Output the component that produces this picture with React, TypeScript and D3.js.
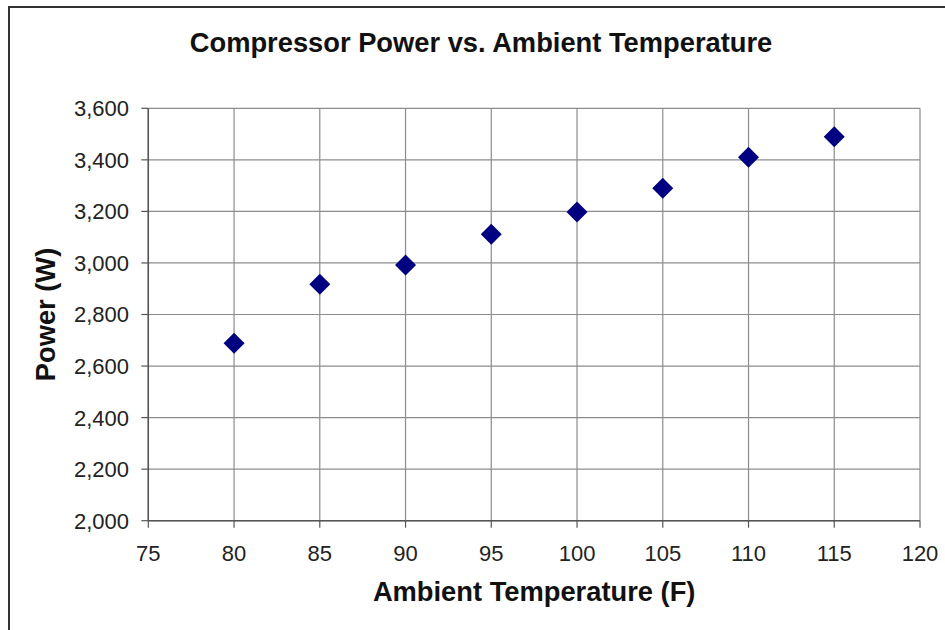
import React from "react";
import * as d3 from "d3";

const temperatures = [80, 85, 90, 95, 100, 105, 110, 115];
const powers = [2688, 2917, 2992, 3111, 3198, 3290, 3410, 3490];
const xTicks = [75, 80, 85, 90, 95, 100, 105, 110, 115, 120];
const yTicks = [2000, 2200, 2400, 2600, 2800, 3000, 3200, 3400, 3600];

const W = 945;
const H = 630;
const plot = { left: 148.3, right: 920, top: 108.3, bottom: 520.7 };
const FONT = "Arial, 'Liberation Sans', Helvetica, sans-serif";

export default function App() {
  const x = d3.scaleLinear().domain([75, 120]).range([plot.left, plot.right]);
  const y = d3.scaleLinear().domain([2000, 3600]).range([plot.bottom, plot.top]);
  const fmt = d3.format(",");
  const r = 10.5;

  return (
    <svg
      width={W}
      height={H}
      style={{ position: "absolute", left: 0, top: 0, background: "#fff" }}
      fontFamily={FONT}
    >
      <rect x={0} y={0} width={W} height={H} fill="#fff" />
      {/* outer frame */}
      <rect x={9} y={7} width={W + 20} height={H + 20} fill="none" stroke="#333" strokeWidth={2} />

      {/* grid lines */}
      {yTicks.map((t) => (
        <line key={"gy" + t} x1={plot.left} x2={plot.right} y1={y(t)} y2={y(t)} stroke="#8c8c8c" strokeWidth={1.2} />
      ))}
      {xTicks.map((t) => (
        <line key={"gx" + t} x1={x(t)} x2={x(t)} y1={plot.top} y2={plot.bottom} stroke="#8c8c8c" strokeWidth={1.2} />
      ))}

      {/* axes */}
      <line x1={plot.left} x2={plot.left} y1={plot.top} y2={plot.bottom} stroke="#555" strokeWidth={1.5} />
      <line x1={plot.left} x2={plot.right} y1={plot.bottom} y2={plot.bottom} stroke="#555" strokeWidth={1.5} />

      {/* y ticks */}
      {yTicks.map((t) => (
        <g key={"ty" + t}>
          <line x1={plot.left - 7} x2={plot.left} y1={y(t)} y2={y(t)} stroke="#555" strokeWidth={1.2} />
          <text x={129} y={y(t)} dy="0.36em" textAnchor="end" fontSize={22} fill="#222">
            {fmt(t)}
          </text>
        </g>
      ))}

      {/* x ticks */}
      {xTicks.map((t) => (
        <g key={"tx" + t}>
          <line x1={x(t)} x2={x(t)} y1={plot.bottom} y2={plot.bottom + 7} stroke="#555" strokeWidth={1.2} />
          <text x={x(t)} y={561} textAnchor="middle" fontSize={22} fill="#222">
            {t}
          </text>
        </g>
      ))}

      {/* points */}
      {temperatures.map((t, i) => {
        const cx = x(t);
        const cy = y(powers[i]);
        return (
          <path
            key={"p" + t}
            d={`M${cx},${cy - r}L${cx + r},${cy}L${cx},${cy + r}L${cx - r},${cy}Z`}
            fill="#000080"
          />
        );
      })}

      {/* titles */}
      <text x={481} y={52} textAnchor="middle" fontSize={27.3} fontWeight="bold" fill="#111">
        Compressor Power vs. Ambient Temperature
      </text>
      <text x={(plot.left + plot.right) / 2} y={601} textAnchor="middle" fontSize={27.3} fontWeight="bold" fill="#111">
        Ambient Temperature (F)
      </text>
      <text
        transform={`translate(55,${(plot.top + plot.bottom) / 2}) rotate(-90)`}
        textAnchor="middle"
        fontSize={27.3}
        fontWeight="bold"
        fill="#111"
      >
        Power (W)
      </text>
    </svg>
  );
}
